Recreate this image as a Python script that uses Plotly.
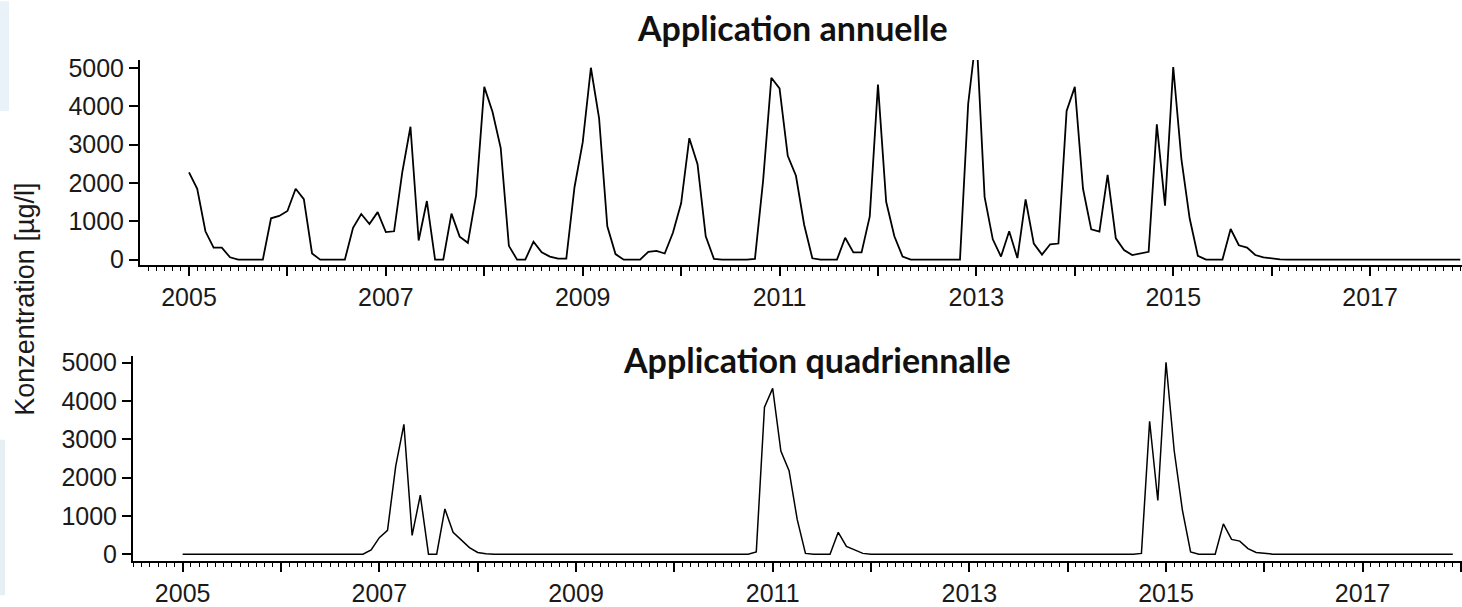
import plotly.graph_objects as go

# Monthly series, Jan 2005 .. Dec 2017 (156 months), concentrations in µg/l
annual = [
    2280, 1850, 740, 315, 315, 60, 0, 0, 0, 0,
    1080, 1140, 1270, 1850, 1580, 160, 0, 0, 0, 0,
    830, 1190, 930, 1240, 720, 740, 2280, 3470, 500, 1530,
    0, 0, 1200, 600, 440, 1680, 4510, 3860, 2920, 360,
    0, 0, 470, 190, 80, 25, 25, 1890, 3060, 5010,
    3690, 870, 145, 0, 0, 0, 205, 230, 160, 700,
    1470, 3170, 2490, 610, 20, 0, 0, 0, 0, 20,
    2070, 4750, 4470, 2710, 2190, 910, 35, 0, 0, 0,
    570, 190, 190, 1130, 4570, 1510, 610, 80, 0, 0,
    0, 0, 0, 0, 0, 4070, 5900, 1640, 530, 80,
    740, 40, 1570, 420, 130, 400, 420, 3880, 4510, 1850,
    790, 730, 2210, 555, 250, 120, 160, 205, 3530, 1410,
    5030, 2620, 1080, 100, 0, 0, 0, 800, 375, 315,
    120, 60, 25, 5, 0, 0, 0, 0, 0, 0,
    0, 0, 0, 0, 0, 0, 0, 0, 0, 0,
    0, 0, 0, 0, 0, 0,
]

quadriennal = [
    0, 0, 0, 0, 0, 0, 0, 0, 0, 0,
    0, 0, 0, 0, 0, 0, 0, 0, 0, 0,
    0, 0, 0, 110, 430, 620, 2300, 3390, 490, 1540,
    0, 0, 1180, 570, 380, 170, 45, 10, 0, 0,
    0, 0, 0, 0, 0, 0, 0, 0, 0, 0,
    0, 0, 0, 0, 0, 0, 0, 0, 0, 0,
    0, 0, 0, 0, 0, 0, 0, 0, 0, 0,
    60, 3840, 4330, 2690, 2180, 900, 20, 0, 0, 0,
    570, 200, 110, 20, 0, 0, 0, 0, 0, 0,
    0, 0, 0, 0, 0, 0, 0, 0, 0, 0,
    0, 0, 0, 0, 0, 0, 0, 0, 0, 0,
    0, 0, 0, 0, 0, 0, 0, 20, 3470, 1400,
    5010, 2700, 1150, 60, 0, 0, 0, 790, 385, 340,
    145, 45, 20, 0, 0, 0, 0, 0, 0, 0,
    0, 0, 0, 0, 0, 0, 0, 0, 0, 0,
    0, 0, 0, 0, 0, 0,
]

start_year = 2005
tick_years = list(range(2005, 2019))
tick_labels = [str(y) if y % 2 == 1 else "" for y in tick_years]
y_ticks = [0, 1000, 2000, 3000, 4000, 5000]

title_top = "Application annuelle"
title_bottom = "Application quadriennalle"
y_title = "Konzentration [µg/l]"

x_time = [start_year + m / 12 for m in range(len(annual))]

W, H = 1462, 607
ML, MR, MT, MB = 133, 0, 60, 35
PW, PH = W - ML - MR, H - MT - MB


def px_x(px):
    return (px - ML) / PW


def px_y(py):
    return (H - MB - py) / PH


tickfont = dict(family="Liberation Sans, Arial, sans-serif", size=25, color="#1a1a1a")

fig = go.Figure()
fig.add_trace(go.Scatter(x=x_time, y=annual, mode="lines",
                         line=dict(color="black", width=1.8),
                         xaxis="x", yaxis="y", hoverinfo="skip"))
fig.add_trace(go.Scatter(x=x_time, y=quadriennal, mode="lines",
                         line=dict(color="black", width=1.5),
                         xaxis="x2", yaxis="y2", hoverinfo="skip"))

xcommon = dict(
    showline=True, linecolor="black", linewidth=2,
    ticks="outside", ticklen=9, tickwidth=1.5, tickcolor="black",
    showgrid=False, zeroline=False,
    tickmode="array", tickvals=tick_years, ticktext=tick_labels,
    tickfont=tickfont,
    minor=dict(ticks="outside", ticklen=4, tickwidth=1.2, tickcolor="black",
               tickmode="linear", tick0=2005, dtick=1 / 12, showgrid=False),
)
ycommon = dict(
    showline=True, linecolor="black", linewidth=2,
    ticks="outside", ticklen=9, tickwidth=1.5, tickcolor="black",
    showgrid=False, zeroline=False,
    tickmode="array", tickvals=y_ticks,
    tickfont=tickfont,
)

fig.update_layout(
    width=W, height=H,
    margin=dict(l=ML, r=MR, t=MT, b=MB),
    paper_bgcolor="white", plot_bgcolor="white",
    showlegend=False,
    xaxis=dict(domain=[px_x(140), 1], range=[2004.502, 2017.934], anchor="y", **xcommon),
    yaxis=dict(domain=[px_y(270), px_y(60)], range=[-153, 5212], anchor="x", **ycommon),
    xaxis2=dict(domain=[0, 1], range=[2004.495, 2018.01], anchor="y2", **xcommon),
    yaxis2=dict(domain=[px_y(572), px_y(362)], range=[-179, 5187], anchor="x2", **ycommon),
    annotations=[
        dict(text=title_top, xref="paper", yref="paper", x=px_x(792), y=px_y(27),
             xanchor="center", yanchor="middle", showarrow=False,
             font=dict(family="Lato, sans-serif", size=34, color="#111111", weight="bold")),
        dict(text=title_bottom, xref="paper", yref="paper", x=px_x(817), y=px_y(366),
             xanchor="center", yanchor="middle", showarrow=False,
             font=dict(family="Lato, sans-serif", size=34, color="#111111", weight="bold")),
        dict(text=y_title, xref="paper", yref="paper", x=px_x(25), y=px_y(305),
             xanchor="center", yanchor="middle", showarrow=False, textangle=-90,
             font=dict(family="Liberation Sans, Arial, sans-serif", size=27, color="#1a1a1a")),
    ],
    shapes=[
        dict(type="rect", xref="paper", yref="paper", layer="below",
             x0=px_x(0), x1=px_x(9), y0=px_y(112), y1=px_y(0),
             fillcolor="#e9f2f9", line=dict(width=0)),
        dict(type="rect", xref="paper", yref="paper", layer="below",
             x0=px_x(0), x1=px_x(5), y0=px_y(607), y1=px_y(448),
             fillcolor="#e6eff4", line=dict(width=0)),
    ],
)

fig.write_html("out.html")
